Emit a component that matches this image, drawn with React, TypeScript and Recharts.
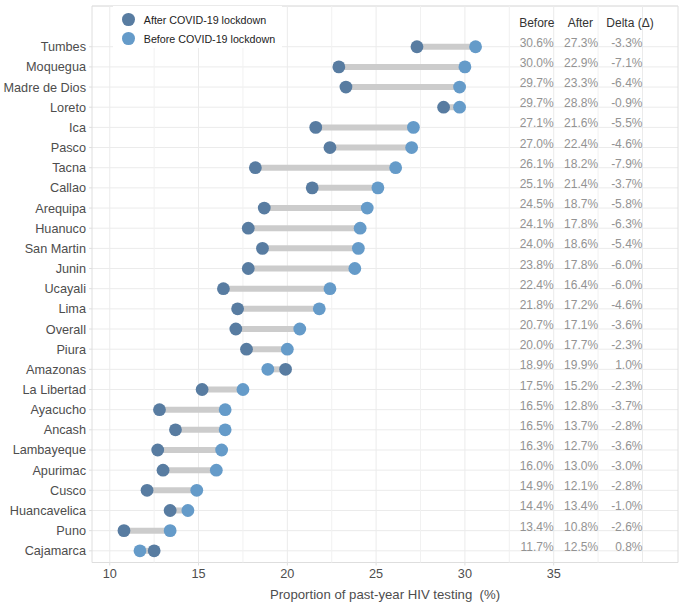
import {
  ScatterChart,
  Scatter,
  XAxis,
  YAxis,
  CartesianGrid,
  ReferenceLine,
  ReferenceArea,
  Legend,
  Label,
} from 'recharts';

// rows from top to bottom
const regions = [
  'Tumbes', 'Moquegua', 'Madre de Dios', 'Loreto', 'Ica', 'Pasco', 'Tacna', 'Callao',
  'Arequipa', 'Huanuco', 'San Martin', 'Junin', 'Ucayali', 'Lima', 'Overall', 'Piura',
  'Amazonas', 'La Libertad', 'Ayacucho', 'Ancash', 'Lambayeque', 'Apurimac', 'Cusco',
  'Huancavelica', 'Puno', 'Cajamarca',
];
const before = [
  30.6, 30.0, 29.7, 29.7, 27.1, 27.0, 26.1, 25.1, 24.5, 24.1, 24.0, 23.8, 22.4,
  21.8, 20.7, 20.0, 18.9, 17.5, 16.5, 16.5, 16.3, 16.0, 14.9, 14.4, 13.4, 11.7,
];
const after = [
  27.3, 22.9, 23.3, 28.8, 21.6, 22.4, 18.2, 21.4, 18.7, 17.8, 18.6, 17.8, 16.4,
  17.2, 17.1, 17.7, 19.9, 15.2, 12.8, 13.7, 12.7, 13.0, 12.1, 13.4, 10.8, 12.5,
];
const delta = [
  -3.3, -7.1, -6.4, -0.9, -5.5, -4.6, -7.9, -3.7, -5.8, -6.3, -5.4, -6.0, -6.0,
  -4.6, -3.6, -2.3, 1.0, -2.3, -3.7, -2.8, -3.6, -3.0, -2.8, -1.0, -2.6, 0.8,
];
const headers = ['Before', 'After', 'Delta (\u0394)'];
const xTicks = [10, 15, 20, 25, 30, 35];
const xGrid = [10, 12.5, 15, 17.5, 20, 22.5, 25, 27.5, 30, 32.5, 35, 37.5, 40];
const axisTitle = 'Proportion of past-year HIV testing  (%)';

// layout of the table columns (x in axis units)
const colRight = [35, 37.5, 40];
const headCenter = [34.05, 36.5, 39.3];

const AFTER_COLOR = '#587ca1';
const BEFORE_COLOR = '#659bc9';
const FONT = '"Liberation Sans", Arial, sans-serif';

const n = regions.length;
const rowY = (i: number) => n - i;
const yTicks = regions.map((_, i) => rowY(i)).reverse();

const afterPts = regions.map((r, i) => ({ x: after[i], y: rowY(i), name: r }));
const beforePts = regions.map((r, i) => ({ x: before[i], y: rowY(i), name: r }));
const fmt = (v: number) => `${v.toFixed(1)}%`;
const valueText = regions.flatMap((_, i) => [
  { x: colRight[0], y: rowY(i), label: fmt(before[i]) },
  { x: colRight[1], y: rowY(i), label: fmt(after[i]) },
  { x: colRight[2], y: rowY(i), label: fmt(delta[i]) },
]);
const headText = headers.map((h, k) => ({ x: headCenter[k], y: n + 1, label: h }));

const legendItems = [
  { label: 'After COVID-19 lockdown', color: AFTER_COLOR },
  { label: 'Before COVID-19 lockdown', color: BEFORE_COLOR },
];

const dot = (color: string) => (p: any) => (
  <circle cx={p.cx} cy={p.cy} r={6.4} fill={color} />
);

const txt = (color: string, anchor: 'end' | 'middle') => (p: any) => (
  <text x={p.cx} y={p.cy} textAnchor={anchor} fill={color} fontSize={12} fontFamily={FONT}>
    {p.payload.label}
  </text>
);

const yTick = (p: any) => (
  <text x={p.x} y={p.y} dy="0.355em" textAnchor="end" fill="#4d4d4d" fontSize={12.7} fontFamily={FONT}>
    {regions[n - p.payload.value]}
  </text>
);

function LegendBox() {
  return (
    <div style={{ background: '#fff', width: 169, height: 42, fontFamily: FONT }}>
      {legendItems.map((it, k) => (
        <div
          key={it.label}
          style={{ position: 'absolute', left: 9, top: 7 + k * 19, height: 13, display: 'flex', alignItems: 'center' }}
        >
          <span style={{ width: 12.8, height: 12.8, borderRadius: '50%', background: it.color, display: 'inline-block' }} />
          <span style={{ marginLeft: 9, fontSize: 10.7, color: '#222', whiteSpace: 'nowrap' }}>{it.label}</span>
        </div>
      ))}
    </div>
  );
}

export default function App() {
  return (
    <div style={{ position: 'absolute', left: 0, top: 0, background: '#fff' }}>
      <ScatterChart width={685} height={607} margin={{ top: 6, right: 7, bottom: 0, left: 0 }}>
        <CartesianGrid vertical={false} stroke="#ebebeb" strokeWidth={1} />
        {xGrid.map((v) => (
          <ReferenceLine key={`g${v}`} x={v} stroke={v % 5 === 0 ? '#ebebeb' : '#f1f1f1'} strokeWidth={1} />
        ))}
        <ReferenceArea x1={9} x2={42} y1={0.42} y2={28.02} fill="none" stroke="#dedede" strokeWidth={1} ifOverflow="visible" />
        <XAxis
          type="number"
          dataKey="x"
          domain={[9, 42]}
          ticks={xTicks}
          interval={0}
          height={44.5}
          axisLine={false}
          tickSize={3}
          tickMargin={3}
          tickLine={{ stroke: '#dedede' }}
          tick={{ fill: '#4d4d4d', fontSize: 12.7, fontFamily: FONT }}
        >
          <Label
            content={(p: any) => {
              const vb = p.viewBox;
              return (
                <text
                  x={vb.x + vb.width / 2}
                  y={vb.y + vb.height - 8}
                  textAnchor="middle"
                  fill="#4d4d4d"
                  fontSize={13.2}
                  fontFamily={FONT}
                  style={{ whiteSpace: 'pre' }}
                >
                  {axisTitle}
                </text>
              );
            }}
          />
        </XAxis>
        <YAxis
          type="number"
          dataKey="y"
          domain={[0.42, 28.02]}
          ticks={yTicks}
          interval={0}
          width={92}
          axisLine={false}
          tickSize={3}
          tickMargin={3}
          tickLine={{ stroke: '#dedede' }}
          tick={yTick}
        />
        {regions.map((r, i) => (
          <ReferenceLine
            key={`s${r}`}
            segment={[
              { x: after[i], y: rowY(i) },
              { x: before[i], y: rowY(i) },
            ]}
            stroke="#cccccc"
            strokeWidth={6}
          />
        ))}
        <Scatter name="Before COVID-19 lockdown" data={beforePts} fill={BEFORE_COLOR} shape={dot(BEFORE_COLOR)} isAnimationActive={false} />
        <Scatter name="After COVID-19 lockdown" data={afterPts} fill={AFTER_COLOR} shape={dot(AFTER_COLOR)} isAnimationActive={false} />
        <Scatter data={valueText} shape={txt('#939393', 'end')} isAnimationActive={false} legendType="none" />
        <Scatter data={headText} shape={txt('#333333', 'middle')} isAnimationActive={false} legendType="none" />
        <Legend
          layout="vertical"
          align="center"
          verticalAlign="middle"
          content={() => <LegendBox />}
          wrapperStyle={{ position: 'absolute', left: 113, top: 6, width: 169, height: 42 }}
        />
      </ScatterChart>
    </div>
  );
}
